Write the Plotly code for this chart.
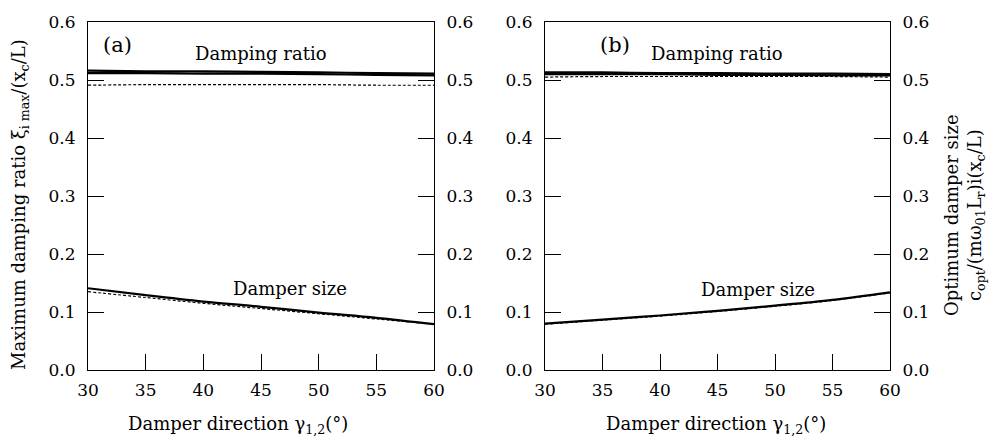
import plotly.graph_objects as go

# Damper direction (degrees)
gamma = [30, 35, 40, 45, 50, 55, 60]

# Panel (a): maximum damping ratio curves
ratio_a1 = [0.516, 0.515, 0.515, 0.514, 0.513, 0.512, 0.511]
ratio_a2 = [0.512, 0.512, 0.511, 0.511, 0.510, 0.509, 0.508]
ratio_a_dash = [0.491, 0.492, 0.492, 0.492, 0.492, 0.491, 0.491]
# Panel (a): optimum damper size curves
size_a = [0.141, 0.129, 0.118, 0.109, 0.099, 0.090, 0.079]
size_a_dash = [0.135, 0.125, 0.115, 0.106, 0.097, 0.088, 0.079]

# Panel (b): maximum damping ratio curves
ratio_b1 = [0.513, 0.513, 0.512, 0.512, 0.511, 0.511, 0.510]
ratio_b2 = [0.510, 0.510, 0.510, 0.509, 0.509, 0.508, 0.508]
ratio_b_dash = [0.505, 0.506, 0.506, 0.506, 0.506, 0.506, 0.505]
# Panel (b): optimum damper size curves
size_b = [0.080, 0.087, 0.094, 0.102, 0.111, 0.121, 0.134]
size_b_dash = [0.079, 0.086, 0.093, 0.101, 0.110, 0.120, 0.133]

y_ticks = [0.0, 0.1, 0.2, 0.3, 0.4, 0.5, 0.6]
x_ticks = [30, 35, 40, 45, 50, 55, 60]

FONT = "DejaVu Serif"
fig = go.Figure()

def add_line(x, y, xa, ya, dash=None, width=2.2):
    fig.add_trace(go.Scatter(
        x=x, y=y, mode="lines", xaxis=xa, yaxis=ya, showlegend=False,
        line=dict(color="black", width=width, dash=dash, shape="spline"),
        hoverinfo="skip"))

for ys in (ratio_a1, ratio_a2, size_a):
    add_line(gamma, ys, "x", "y")
for ys in (ratio_a_dash, size_a_dash):
    add_line(gamma, ys, "x", "y", dash="3px,2px", width=1.2)

for ys in (ratio_b1, ratio_b2, size_b):
    add_line(gamma, ys, "x2", "y3")
for ys in (ratio_b_dash, size_b_dash):
    add_line(gamma, ys, "x2", "y3", dash="3px,2px", width=1.2)

# invisible traces so the right-hand y axes are rendered
fig.add_trace(go.Scatter(x=[30], y=[0], xaxis="x", yaxis="y2", mode="markers",
                         marker=dict(opacity=0), showlegend=False, hoverinfo="skip"))
fig.add_trace(go.Scatter(x=[30], y=[0], xaxis="x2", yaxis="y4", mode="markers",
                         marker=dict(opacity=0), showlegend=False, hoverinfo="skip"))

tick_font = dict(family=FONT, size=17, color="black")

xcommon = dict(range=[30, 60], tickvals=x_ticks, ticks="inside", ticklen=16,
               tickwidth=1, tickcolor="black", showline=True, linecolor="black",
               linewidth=1, mirror=True, showgrid=False, zeroline=False,
               tickfont=tick_font, ticklabelstandoff=5, automargin=False)
ycommon = dict(range=[0, 0.6], tickvals=y_ticks, tickformat=".1f", ticks="inside",
               ticklen=16, tickwidth=1, tickcolor="black", showline=True,
               linecolor="black", linewidth=1, showgrid=False, zeroline=False,
               tickfont=tick_font, ticklabelstandoff=8, automargin=False)

ybot, ytop = 1 - 370 / 442, 1 - 22 / 442
xa_dom = [88 / 1003, 434 / 1003]
xb_dom = [545 / 1003, 890 / 1003]

fig.update_layout(
    width=1003, height=442,
    margin=dict(l=0, r=0, t=0, b=0, autoexpand=False),
    paper_bgcolor="white", plot_bgcolor="white",
    font=dict(family=FONT, color="black"),
    xaxis=dict(domain=xa_dom, anchor="y", **xcommon),
    yaxis=dict(domain=[ybot, ytop], anchor="x", side="left", **ycommon),
    yaxis2=dict(domain=[ybot, ytop], anchor="x", overlaying="y", side="right", **ycommon),
    xaxis2=dict(domain=xb_dom, anchor="y3", **xcommon),
    yaxis3=dict(domain=[ybot, ytop], anchor="x2", side="left", **ycommon),
    yaxis4=dict(domain=[ybot, ytop], anchor="x2", overlaying="y3", side="right", **ycommon),
)

def text(x, y, s, size=18, angle=0, xanchor="center"):
    fig.add_annotation(x=x / 1003, y=1 - y / 442, xref="paper", yref="paper",
                       text=s, showarrow=False, textangle=angle, xanchor=xanchor,
                       yanchor="middle", font=dict(family=FONT, size=size, color="black"))

text(101, 45, "(a)", size=21, xanchor="left")
text(261, 53, "Damping ratio")
text(290, 288, "Damper size")
text(598, 45, "(b)", size=21, xanchor="left")
text(717, 53, "Damping ratio")
text(758, 289, "Damper size")

text(238, 425, "Damper direction γ<sub>1,2</sub>(°)")
text(716, 425, "Damper direction γ<sub>1,2</sub>(°)")

text(20, 205, "Maximum damping ratio ξ<sub>i max</sub>/(x<sub>c</sub>/L)", angle=-90)
text(964, 215, "Optimum damper size<br>c<sub>opt</sub>/(mω<sub>01</sub>L<sub>r</sub>)i(x<sub>c</sub>/L)",
     angle=-90)

fig.write_html("out.html")
